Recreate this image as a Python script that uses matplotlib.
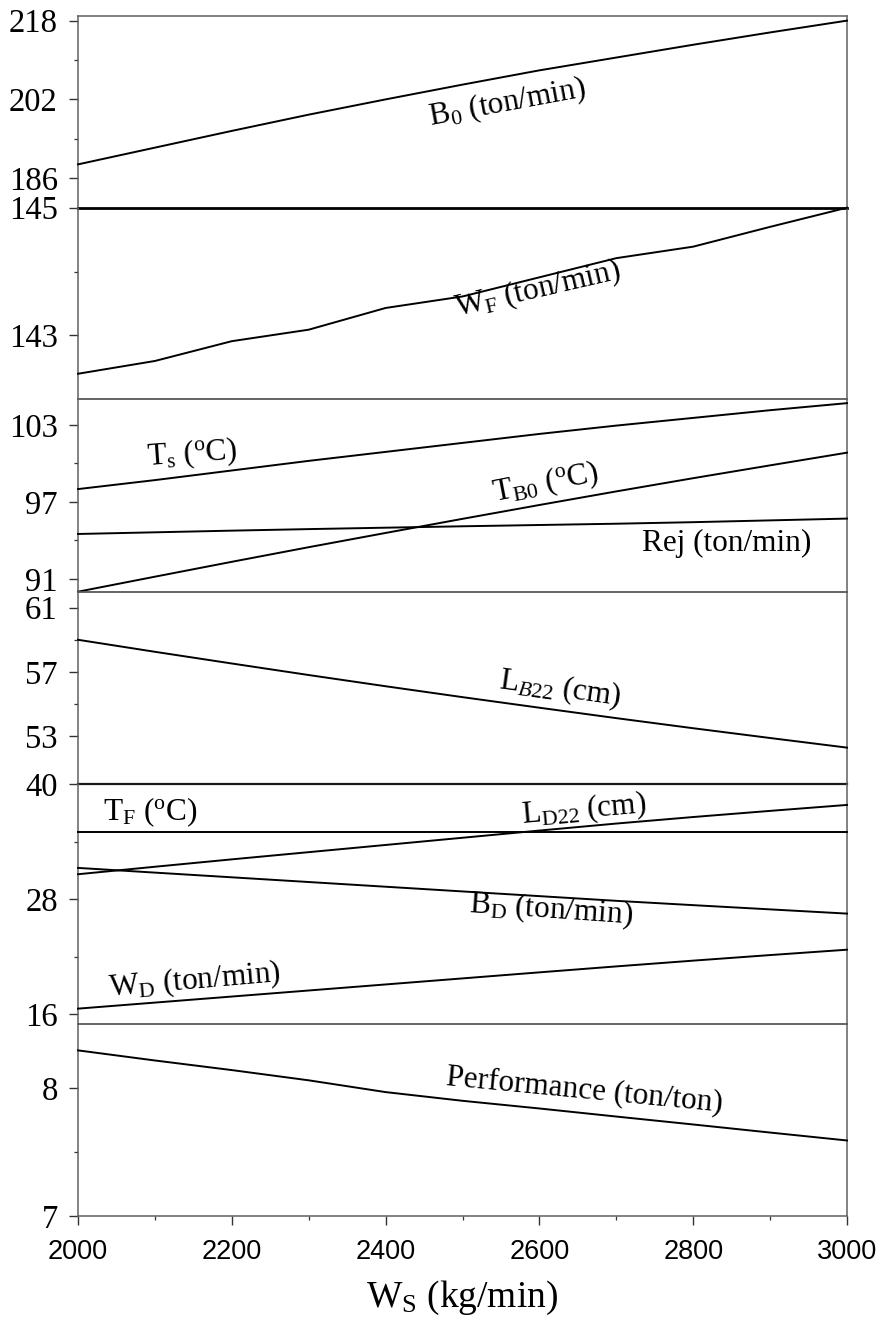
import matplotlib
matplotlib.use("Agg")
import matplotlib.pyplot as plt
from matplotlib.ticker import FixedLocator, NullFormatter

plt.rcParams["font.family"] = ["Liberation Serif", "DejaVu Serif"]
plt.rcParams["mathtext.fontset"] = "custom"
plt.rcParams["mathtext.rm"] = "Liberation Serif"
plt.rcParams["mathtext.it"] = "Liberation Serif:italic"
plt.rcParams["mathtext.bf"] = "Liberation Serif:bold"

# Steam flow rate W_S (kg/min)
ws = [2000, 2100, 2200, 2300, 2400, 2500, 2600, 2700, 2800, 2900, 3000]

b0 = [188.8, 192.2, 195.6, 198.9, 202.0, 205.0, 207.9, 210.5, 213.1, 215.6, 218.0]
wf = [142.40, 142.60, 142.91, 143.09, 143.43, 143.61, 143.91, 144.21, 144.39, 144.70, 145.0]
ts = [98.0, 98.7, 99.45, 100.2, 100.9, 101.6, 102.3, 102.95, 103.55, 104.15, 104.7]
tb0 = [90.0, 91.17, 92.33, 93.47, 94.58, 95.68, 96.76, 97.82, 98.85, 99.85, 100.84]
rej = [94.5, 94.63, 94.76, 94.88, 94.99, 95.1, 95.2, 95.3, 95.42, 95.56, 95.7]
lb22 = [59.0, 58.25, 57.52, 56.8, 56.1, 55.42, 54.76, 54.11, 53.48, 52.87, 52.27]
tf = [35.0, 35.0, 35.0, 35.0, 35.0, 35.0, 35.0, 35.0, 35.0, 35.0, 35.0]
ld22 = [30.6, 31.38, 32.15, 32.9, 33.65, 34.4, 35.15, 35.88, 36.56, 37.2, 37.82]
bd = [31.26, 30.77, 30.28, 29.79, 29.3, 28.81, 28.32, 27.83, 27.38, 26.94, 26.5]
wd = [16.6, 17.23, 17.86, 18.49, 19.12, 19.75, 20.38, 21.0, 21.6, 22.18, 22.74]
perf = [8.294, 8.215, 8.14, 8.06, 7.968, 7.9, 7.84, 7.777, 7.715, 7.652, 7.59]

x_major = [2000, 2200, 2400, 2600, 2800, 3000]
x_minor = [2100, 2300, 2500, 2700, 2900]

# panel definitions: (y-limits, major ticks, minor ticks, series)
panels = [
    ((180, 219), [186, 202, 218], [194, 210], [b0]),
    ((142, 145), [143, 145], [144], [wf]),
    ((90, 105), [91, 97, 103], [94, 100], [ts, tb0, rej]),
    ((50, 62), [53, 57, 61], [55, 59], [lb22]),
    ((15, 40), [16, 28, 40], [22, 34], [tf, ld22, bd, wd]),
    ((7, 8.5), [7, 8], [7.5], [perf]),
]

# vertical extents of each panel in pixels (top, bottom)
W, H = 880, 1324
edges = [(15.7, 207.7), (207.7, 399.3), (399.3, 591.7),
         (591.7, 784.0), (784.0, 1024.0), (1024.0, 1216.0)]
left_px, right_px = 78, 847

fig = plt.figure(figsize=(W / 100, H / 100), dpi=100)
spine_col = "#606060"
axes = []
for i, ((lo, hi), maj, mnr, series) in enumerate(panels):
    top, bot = edges[i]
    ax = fig.add_axes([left_px / W, 1 - bot / H, (right_px - left_px) / W, (bot - top) / H])
    ax.patch.set_visible(False)
    for s in series:
        ax.plot(ws, s, color="black", lw=1.4, clip_on=False, zorder=3)
    ax.set_xlim(2000, 3000)
    ax.set_ylim(lo, hi)
    ax.yaxis.set_major_locator(FixedLocator(maj))
    ax.yaxis.set_minor_locator(FixedLocator(mnr))
    ax.yaxis.set_minor_formatter(NullFormatter())
    ax.set_yticklabels([f"{v:g}" for v in maj])
    ax.tick_params(axis="y", which="major", length=6.5, width=1.0, pad=8,
                   labelsize=23.5, color="#333333")
    ax.tick_params(axis="y", which="minor", length=3, width=0.9, color="#333333")
    for sp in ax.spines.values():
        sp.set_color(spine_col)
        sp.set_linewidth(1.1)
    if i < len(panels) - 1:
        ax.tick_params(axis="x", which="both", bottom=False, labelbottom=False)
    else:
        ax.xaxis.set_major_locator(FixedLocator(x_major))
        ax.xaxis.set_minor_locator(FixedLocator(x_minor))
        ax.tick_params(axis="x", which="major", length=6.5, width=1.0, pad=10,
                       labelsize=19.5, color="#333333")
        ax.tick_params(axis="x", which="minor", length=3, width=0.9, color="#333333")
        for lab in ax.get_xticklabels():
            lab.set_family(["Liberation Sans", "DejaVu Sans"])
        ax.set_xlabel(r"W$_{\mathrm{S}}$ (kg/min)", fontsize=27, labelpad=10)
    axes.append(ax)

# darker separators at the 145 and 40 boundaries
axes[0].spines["bottom"].set_color("black")
axes[0].spines["bottom"].set_linewidth(2.0)
axes[0].spines["bottom"].set_zorder(5)
axes[1].spines["top"].set_visible(False)
axes[3].spines["bottom"].set_color("#1a1a1a")
axes[3].spines["bottom"].set_linewidth(1.6)
axes[3].spines["bottom"].set_zorder(5)
axes[4].spines["top"].set_visible(False)

lab_fs = 22.5
def note(ax, x, y, text, rot=0):
    ax.text(x, y, text, fontsize=lab_fs, rotation=rot, rotation_mode="anchor",
            ha="center", va="center", zorder=4)

note(axes[0], 2558, 201.3, r"B$_{\mathrm{0}}$ (ton/min)", 10.5)
note(axes[1], 2598, 143.71, r"W$_{\mathrm{F}}$ (ton/min)", 13)
note(axes[2], 2148, 100.7, r"T$_{\mathrm{s}}$ ($^{\mathrm{o}}$C)", 4)
note(axes[2], 2608, 98.44, r"T$_{\mathrm{B0}}$ ($^{\mathrm{o}}$C)", 11)
note(axes[2], 2844, 93.74, "Rej (ton/min)", 0)
note(axes[3], 2627, 55.96, r"L$_{B22}$ (cm)", -8)
note(axes[4], 2094, 37.1, r"T$_{\mathrm{F}}$ ($^{\mathrm{o}}$C)", 0)
note(axes[4], 2658, 37.3, r"L$_{\mathrm{D22}}$ (cm)", 5)
note(axes[4], 2615, 26.83, r"B$_{\mathrm{D}}$ (ton/min)", -4)
note(axes[4], 2152, 19.46, r"W$_{\mathrm{D}}$ (ton/min)", 5)
note(axes[5], 2659, 7.987, "Performance (ton/ton)", -5.5)

fig.savefig("out.png", dpi=100)
